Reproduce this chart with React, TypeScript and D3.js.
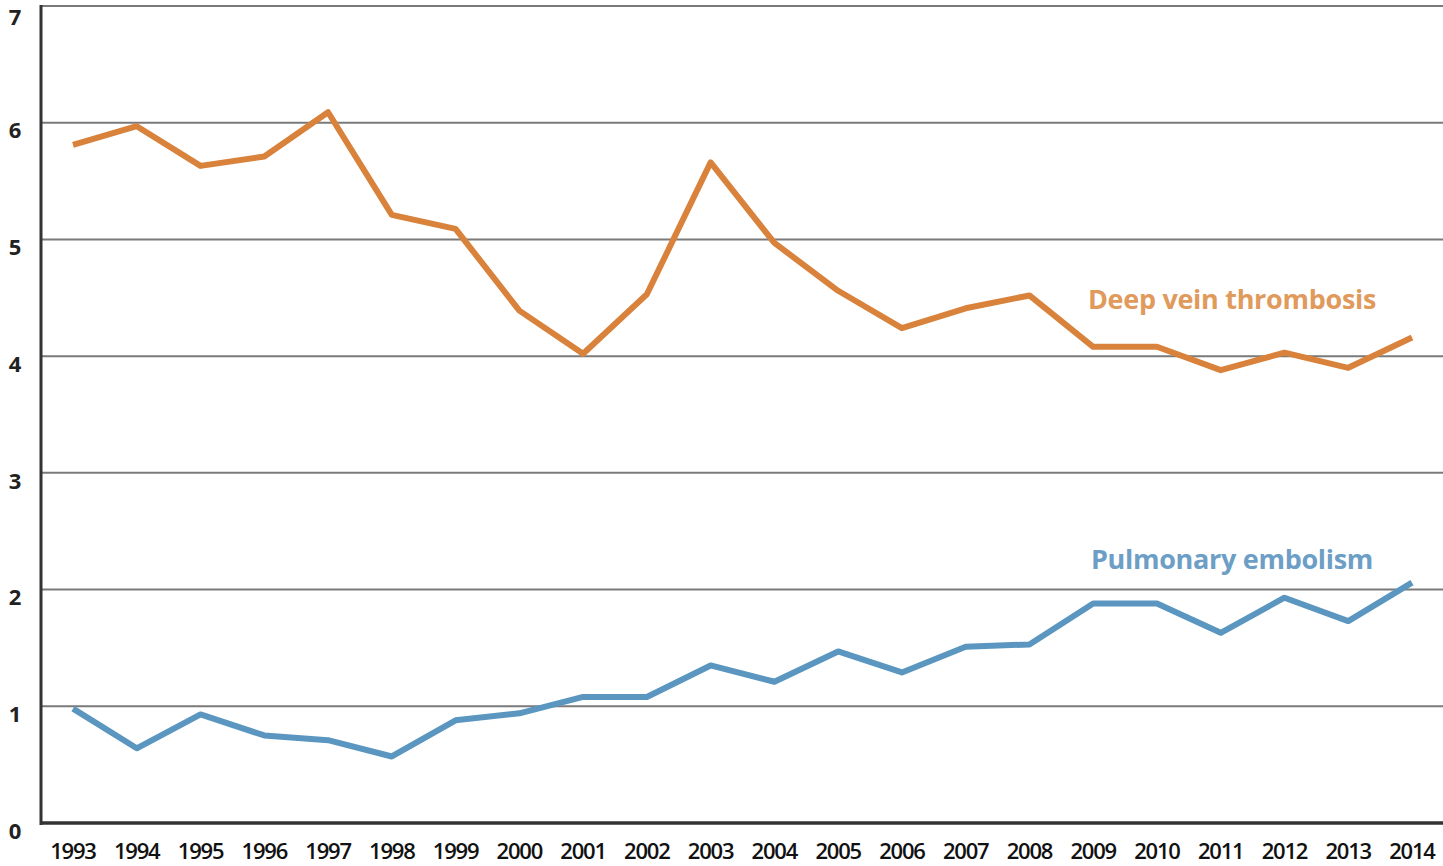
import React, { Component } from 'react';
import * as d3 from 'd3';

const years = [1993, 1994, 1995, 1996, 1997, 1998, 1999, 2000, 2001, 2002, 2003,
  2004, 2005, 2006, 2007, 2008, 2009, 2010, 2011, 2012, 2013, 2014];

const dvtValues = [5.81, 5.97, 5.63, 5.71, 6.09, 5.21, 5.09, 4.39, 4.02, 4.53, 5.66,
  4.97, 4.56, 4.24, 4.41, 4.52, 4.08, 4.08, 3.88, 4.03, 3.90, 4.16];

const peValues = [0.98, 0.64, 0.93, 0.75, 0.71, 0.57, 0.88, 0.94, 1.08, 1.08, 1.35,
  1.21, 1.47, 1.29, 1.51, 1.53, 1.88, 1.88, 1.63, 1.93, 1.73, 2.06];

const yTicks = [0, 1, 2, 3, 4, 5, 6, 7];

const seriesLabels = ['Deep vein thrombosis', 'Pulmonary embolism'];

export default class App extends Component {
  myRef = React.createRef<SVGSVGElement>();

  componentDidMount() {
    this.draw(this.myRef.current);
  }

  draw = (el: SVGSVGElement | null) => {
    if (!el) return;
    const width = 1443;
    const height = 866;
    const margin = { left: 41, right: 0, top: 6, bottom: 43 };

    const svg = d3.select(el);
    svg.selectAll('*').remove();

    const x = d3.scalePoint<number>()
      .domain(years)
      .range([73, 1412]);
    const y = d3.scaleLinear()
      .domain([0, 7])
      .range([height - margin.bottom, margin.top]);

    // horizontal gridlines (incl. top line at 7)
    svg.append('g')
      .selectAll('line')
      .data(yTicks.filter((d) => d > 0))
      .join('line')
      .attr('x1', margin.left)
      .attr('x2', width)
      .attr('y1', (d) => y(d))
      .attr('y2', (d) => y(d))
      .attr('stroke', '#7a7a7a')
      .attr('stroke-width', 2);

    // y labels (sit a bit below their gridline, like the original)
    svg.append('g')
      .selectAll('text')
      .data(yTicks)
      .join('text')
      .attr('x', 15)
      .attr('y', (d) => Math.max(y(d) + 8, 17))
      .attr('text-anchor', 'middle')
      .attr('dy', '0.35em')
      .style('font-family', '"Open Sans", sans-serif')
      .style('font-size', '22px')
      .style('font-weight', 700)
      .attr('fill', '#222')
      .text((d) => d);

    // axes
    svg.append('line')
      .attr('x1', margin.left).attr('x2', margin.left)
      .attr('y1', y(7) - 1).attr('y2', y(0) + 2)
      .attr('stroke', '#333').attr('stroke-width', 3);
    svg.append('line')
      .attr('x1', margin.left - 1).attr('x2', width)
      .attr('y1', y(0)).attr('y2', y(0))
      .attr('stroke', '#333').attr('stroke-width', 3.5);

    // x labels
    svg.append('g')
      .selectAll('text')
      .data(years)
      .join('text')
      .attr('x', (d) => x(d) as number)
      .attr('y', 859)
      .attr('text-anchor', 'middle')
      .style('font-family', '"Open Sans", sans-serif')
      .style('font-size', '22px')
      .style('font-weight', 600)
      .style('letter-spacing', '-1.2px')
      .attr('fill', '#111')
      .text((d) => d);

    const line = d3.line<number>()
      .x((d, i) => x(years[i]) as number)
      .y((d) => y(d));

    svg.append('path')
      .datum(dvtValues)
      .attr('d', line)
      .attr('fill', 'none')
      .attr('stroke', '#d9823c')
      .attr('stroke-width', 6)
      .attr('stroke-linejoin', 'round');

    svg.append('path')
      .datum(peValues)
      .attr('d', line)
      .attr('fill', 'none')
      .attr('stroke', '#5a96c0')
      .attr('stroke-width', 6)
      .attr('stroke-linejoin', 'round');

    // series labels
    svg.append('text')
      .attr('x', 1232)
      .attr('y', y(4.4))
      .attr('text-anchor', 'middle')
      .style('font-family', '"Open Sans", sans-serif')
      .style('font-size', '27px')
      .style('font-weight', 700)
      .style('letter-spacing', '-0.3px')
      .attr('fill', '#e09a5c')
      .text(seriesLabels[0]);

    svg.append('text')
      .attr('x', 1232)
      .attr('y', y(2.18))
      .attr('text-anchor', 'middle')
      .style('font-family', '"Open Sans", sans-serif')
      .style('font-size', '27px')
      .style('font-weight', 700)
      .style('letter-spacing', '-0.3px')
      .attr('fill', '#6c9ec6')
      .text(seriesLabels[1]);
  };

  render() {
    return (
      <svg
        ref={this.myRef}
        width={1443}
        height={866}
        style={{ position: 'absolute', left: 0, top: 0, background: '#fff' }}
      />
    );
  }
}
